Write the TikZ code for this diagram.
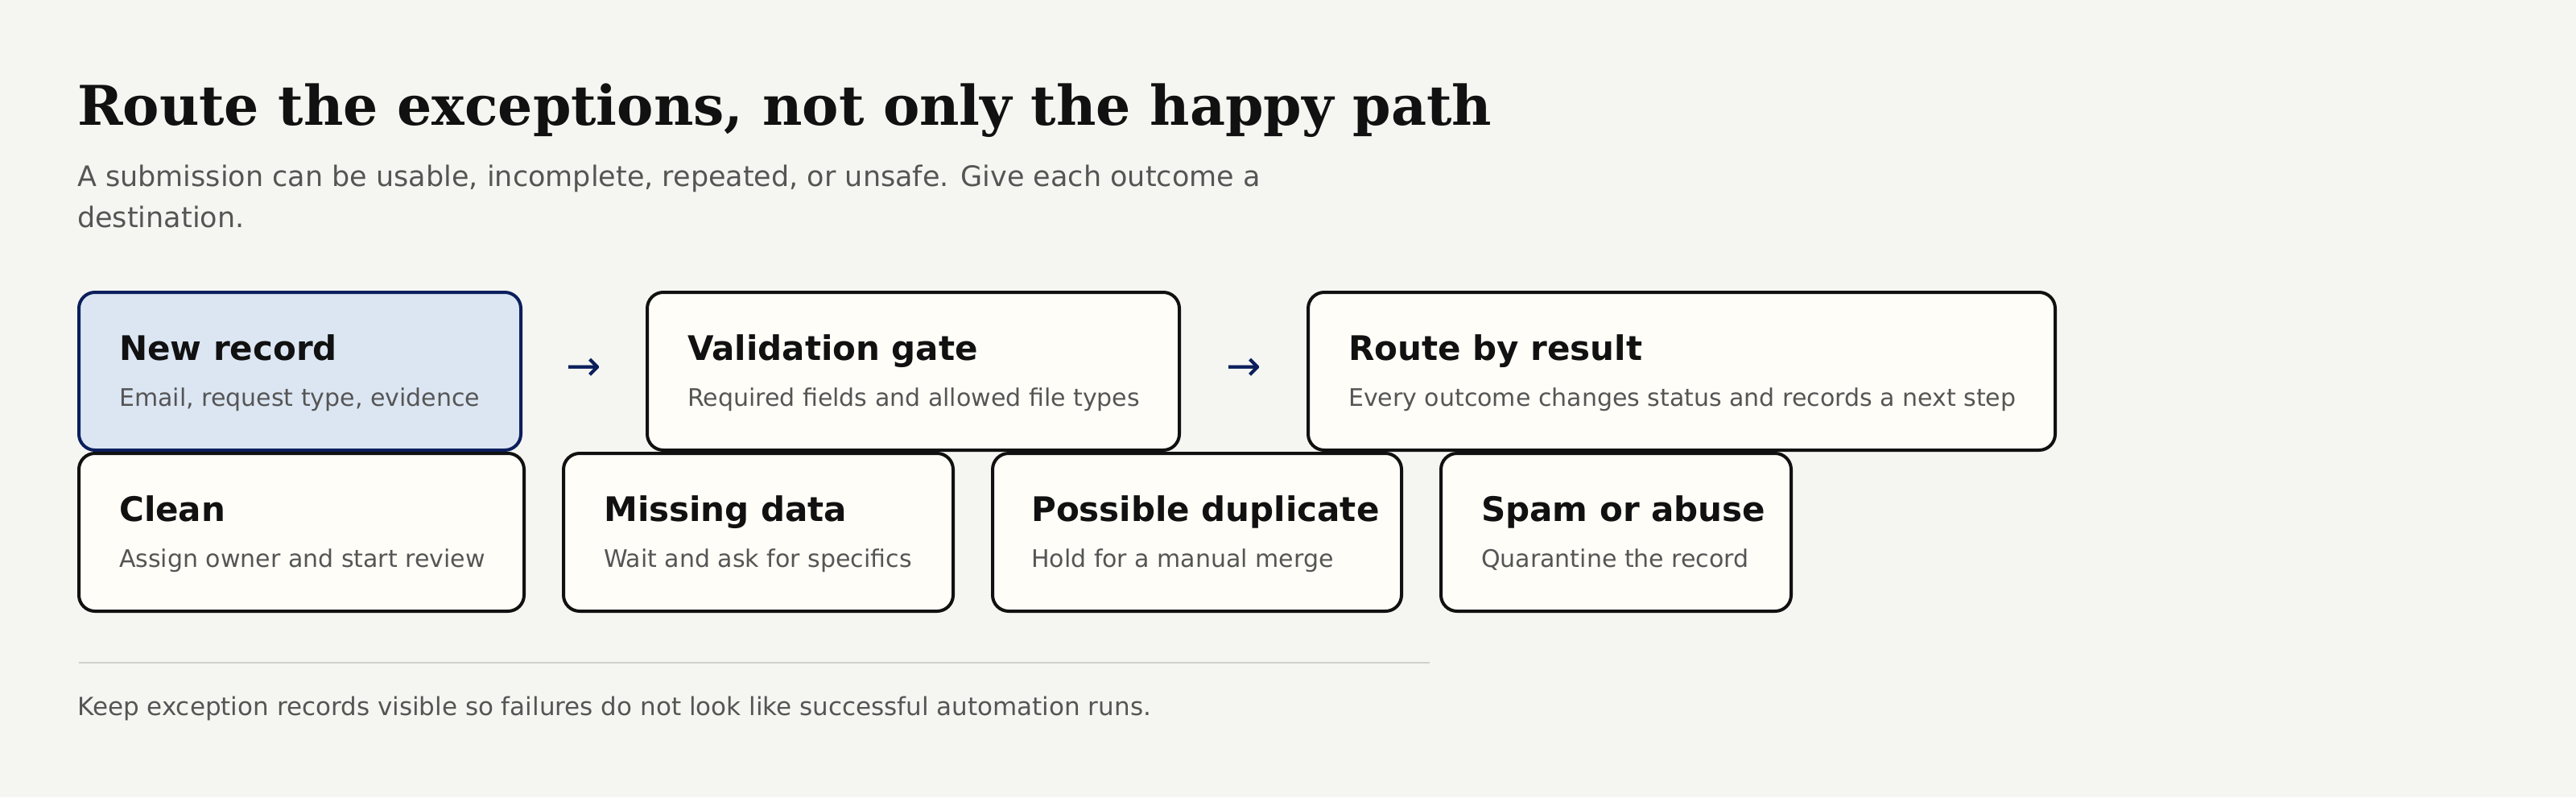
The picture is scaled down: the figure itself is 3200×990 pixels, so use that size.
\documentclass[tikz,border=0pt]{standalone}
\usepackage{fontspec}
\setmainfont{DejaVu Sans}
\newfontfamily\titlefont{DejaVu Serif}
\definecolor{bg}{HTML}{F5F6F2}
\definecolor{boxfill}{HTML}{FEFDF8}
\definecolor{bluefill}{HTML}{DCE6F3}
\definecolor{navy}{HTML}{0B1F5C}
\definecolor{ink}{HTML}{111111}
\definecolor{muted}{HTML}{555555}
\definecolor{rule}{HTML}{D0D0CC}
\begin{document}
\begin{tikzpicture}[x=1pt,y=-1pt,
  card/.style={draw=ink,line width=4pt,rounded corners=20pt,fill=boxfill},
  hd/.style={anchor=base west,inner sep=0,font=\fontsize{42}{50}\selectfont\bfseries,text=ink},
  sub/.style={anchor=base west,inner sep=0,font=\fontsize{30}{36}\selectfont,text=muted},
  arr/.style={inner sep=0,font=\fontsize{52}{60}\selectfont,text=navy}]
\fill[bg] (0,0) rectangle (3200,990);
\useasboundingbox (0,0) rectangle (3200,990);
\node[anchor=base west,inner sep=0,font=\titlefont\fontsize{68}{80}\selectfont\bfseries,text=ink] (title) at (96,155) {Route the exceptions, not only the happy path};
\node[anchor=base west,inner sep=0,font=\fontsize{35}{42}\selectfont,text=muted] (st1) at (96,231) {A submission can be usable, incomplete, repeated, or unsafe. Give each outcome a};
\node[anchor=base west,inner sep=0,font=\fontsize{35}{42}\selectfont,text=muted] (st2) at (96,282) {destination.};
% row 1
\draw[card,draw=navy,fill=bluefill] (98,363) rectangle (647,559);
\node[hd] (n1) at (148,447) {New record};
\node[sub] (s1) at (148,504) {Email, request type, evidence};
\draw[card] (804,363) rectangle (1465,559);
\node[hd] (n2) at (854,447) {Validation gate};
\node[sub] (s2) at (854,504) {Required fields and allowed file types};
\draw[card] (1625,363) rectangle (2553,559);
\node[hd] (n3) at (1675,447) {Route by result};
\node[sub] (s3) at (1675,504) {Every outcome changes status and records a next step};
\node[arr] (a1) at (725,459) {→};
\node[arr] (a2) at (1545,459) {→};
% row 2
\draw[card] (98,563) rectangle (651,759);
\node[hd] (c1) at (148,647) {Clean};
\node[sub] (d1) at (148,704) {Assign owner and start review};
\draw[card] (700,563) rectangle (1184,759);
\node[hd] (c2) at (750,647) {Missing data};
\node[sub] (d2) at (750,704) {Wait and ask for specifics};
\draw[card] (1233,563) rectangle (1741,759);
\node[hd] (c3) at (1281,647) {Possible duplicate};
\node[sub] (d3) at (1281,704) {Hold for a manual merge};
\draw[card] (1790,563) rectangle (2225,759);
\node[hd] (c4) at (1840,647) {Spam or abuse};
\node[sub] (d4) at (1840,704) {Quarantine the record};
\draw[rule,line width=2pt] (98,823) -- (1776,823);
\node[anchor=base west,inner sep=0,font=\fontsize{31}{38}\selectfont,text=muted] (foot) at (96,888) {Keep exception records visible so failures do not look like successful automation runs.};
\end{tikzpicture}
\end{document}
